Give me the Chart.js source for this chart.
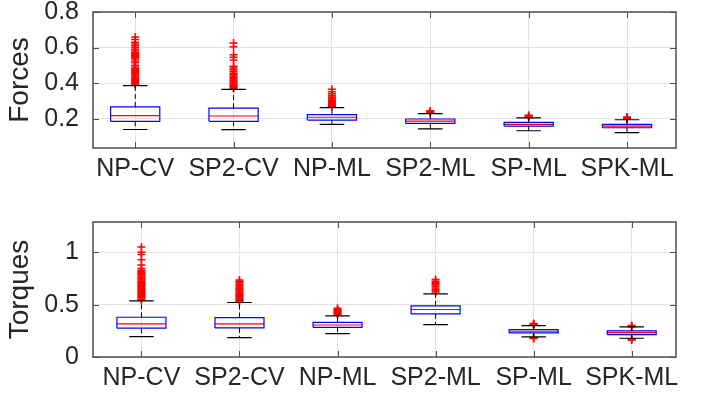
<!DOCTYPE html>
<html>
<head>
<meta charset="utf-8">
<script src="https://cdn.jsdelivr.net/npm/chart.js@4/dist/chart.umd.min.js"></script>
<style>
  body { margin: 0; background: #fff; }
  #wrap { position: relative; width: 710px; height: 396px; }
  canvas { position: absolute; left: 0; }
</style>
</head>
<body>
<div id="wrap">
  <canvas id="forces" width="710" height="198" style="top:0"></canvas>
  <canvas id="torques" width="710" height="198" style="top:198px"></canvas>
</div>
<script>
const categories = ["NP-CV", "SP2-CV", "NP-ML", "SP2-ML", "SP-ML", "SPK-ML"];

const forceLow = [0.139, 0.138, 0.168, 0.143, 0.132, 0.122];
const forceQ1 = [0.185, 0.185, 0.192, 0.173, 0.1585, 0.149];
const forceMedian = [0.217, 0.215, 0.208, 0.186, 0.168, 0.158];
const forceQ3 = [0.266, 0.259, 0.223, 0.198, 0.1795, 0.168];
const forceHigh = [0.386, 0.365, 0.2625, 0.228, 0.2045, 0.194];
const forceOutliers = [
  [0.392, 0.398, 0.405, 0.41, 0.416, 0.422, 0.428, 0.434, 0.44, 0.446, 0.452,
   0.458, 0.464, 0.47, 0.476, 0.482, 0.49, 0.5, 0.515, 0.525, 0.535, 0.542,
   0.548, 0.554, 0.56, 0.566, 0.572, 0.58, 0.59, 0.6, 0.61, 0.62, 0.63, 0.645,
   0.66],
  [0.37, 0.376, 0.382, 0.388, 0.394, 0.4, 0.406, 0.412, 0.418, 0.425, 0.433,
   0.44, 0.448, 0.456, 0.465, 0.475, 0.485, 0.495, 0.53, 0.545, 0.56, 0.605,
   0.625],
  [0.268, 0.274, 0.28, 0.286, 0.292, 0.298, 0.304, 0.31, 0.316, 0.322, 0.33,
   0.34, 0.352, 0.365],
  [0.232, 0.236, 0.24, 0.244],
  [0.207, 0.211, 0.215, 0.219],
  [0.198, 0.202, 0.206, 0.209],
];
const forceTicks = [0.2, 0.4, 0.6, 0.8];

const torqueLow = [0.195, 0.186, 0.224, 0.31, 0.192, 0.179];
const torqueQ1 = [0.275, 0.278, 0.284, 0.412, 0.23, 0.214];
const torqueMedian = [0.316, 0.316, 0.306, 0.454, 0.246, 0.233];
const torqueQ3 = [0.38, 0.377, 0.33, 0.489, 0.262, 0.249];
const torqueHigh = [0.536, 0.521, 0.393, 0.603, 0.3, 0.287];
const torqueOutliers = [
  [0.545, 0.555, 0.565, 0.575, 0.585, 0.595, 0.605, 0.615, 0.625, 0.635, 0.645,
   0.655, 0.665, 0.675, 0.685, 0.695, 0.705, 0.715, 0.725, 0.735, 0.745, 0.755,
   0.765, 0.775, 0.785, 0.795, 0.805, 0.815, 0.83, 0.845, 0.88, 0.93, 0.98,
   1.0, 1.05],
  [0.53, 0.54, 0.55, 0.56, 0.57, 0.58, 0.59, 0.6, 0.61, 0.62, 0.63, 0.64,
   0.65, 0.66, 0.67, 0.68, 0.695, 0.71, 0.725, 0.735],
  [0.405, 0.415, 0.425, 0.435, 0.445, 0.455, 0.465],
  [0.62, 0.63, 0.645, 0.66, 0.675, 0.69, 0.7, 0.715, 0.725, 0.74],
  [0.305, 0.31, 0.315, 0.32, 0.185, 0.18, 0.176],
  [0.29, 0.295, 0.3, 0.172, 0.167, 0.163],
];
const torqueTicks = [0, 0.5, 1];

const TEXT = "#262626";
const FONT = "'Liberation Sans', Arial, sans-serif";
const HALF = 0.25;   // half box width
const CAP = 0.125;   // half whisker cap width

function boxDatasets(low, q1, med, q3, high, outliers) {
  const boxes = [], medians = [], whiskers = [], caps = [], pts = [];
  categories.forEach((c, i) => {
    const x = i + 1;
    boxes.push({x: x - HALF, y: q1[i]}, {x: x + HALF, y: q1[i]},
               {x: x + HALF, y: q3[i]}, {x: x - HALF, y: q3[i]},
               {x: x - HALF, y: q1[i]}, {x: x, y: null});
    medians.push({x: x - HALF, y: med[i]}, {x: x + HALF, y: med[i]}, {x: x, y: null});
    whiskers.push({x: x, y: q3[i]}, {x: x, y: high[i]}, {x: x, y: null},
                  {x: x, y: q1[i]}, {x: x, y: low[i]}, {x: x, y: null});
    caps.push({x: x - CAP, y: high[i]}, {x: x + CAP, y: high[i]}, {x: x, y: null},
              {x: x - CAP, y: low[i]}, {x: x + CAP, y: low[i]}, {x: x, y: null});
    outliers[i].forEach(v => pts.push({x: x, y: v}));
  });
  const line = (data, color, extra) => Object.assign({
    data, showLine: true, borderColor: color, borderWidth: 1.2,
    pointRadius: 0, spanGaps: false, fill: false,
  }, extra);
  return [
    line(whiskers, "#000", {borderDash: [5, 3], borderWidth: 1}),
    line(caps, "#000", {borderWidth: 1.2}),
    line(boxes, "#0000ff"),
    line(medians, "#ff0000"),
    {data: pts, pointStyle: "cross", pointRadius: 4, borderColor: "#ff0000",
     borderWidth: 1.5, showLine: false},
  ];
}

const frame = {
  id: "frame",
  afterDatasetsDraw(chart) {
    const {ctx, chartArea: a, scales} = chart;
    ctx.save();
    ctx.strokeStyle = "#4d4d4d";
    ctx.lineWidth = 1;
    ctx.beginPath();
    scales.y.ticks.forEach(t => {
      const y = Math.round(scales.y.getPixelForValue(t.value)) + 0.5;
      ctx.moveTo(a.left, y); ctx.lineTo(a.left + 6, y);
      ctx.moveTo(a.right, y); ctx.lineTo(a.right - 6, y);
    });
    scales.x.ticks.forEach(t => {
      const x = Math.round(scales.x.getPixelForValue(t.value)) + 0.5;
      ctx.moveTo(x, a.bottom); ctx.lineTo(x, a.bottom - 6);
      ctx.moveTo(x, a.top); ctx.lineTo(x, a.top + 6);
    });
    ctx.stroke();
    ctx.lineWidth = 1.5;
    ctx.strokeRect(a.left, a.top, a.width, a.height);
    ctx.restore();
  },
};

function makeChart(id, title, datasets, yTicks, ymin, ymax, xmin, xmax, pad, xHeight, xPad) {
  return new Chart(document.getElementById(id), {
    type: "scatter",
    data: {datasets},
    plugins: [frame],
    options: {
      responsive: false,
      animation: false,
      layout: {padding: pad},
      plugins: {legend: {display: false}, tooltip: {enabled: false}},
      scales: {
        x: {
          type: "linear", min: xmin, max: xmax,
          afterBuildTicks: s => { s.ticks = categories.map((c, i) => ({value: i + 1})); },
          afterFit: s => { s.height = xHeight; s.paddingLeft = 0; s.paddingRight = 0; },
          grid: {color: "#e3e3e3", drawTicks: false},
          border: {display: false},
          ticks: {
            autoSkip: false, maxRotation: 0, padding: xPad, color: TEXT,
            font: {family: FONT, size: 25, lineHeight: 1},
            callback: (v, i) => categories[i],
          },
        },
        y: {
          min: ymin, max: ymax,
          afterBuildTicks: s => { s.ticks = yTicks.map(v => ({value: v})); },
          afterFit: s => { s.width = 93; s.paddingTop = 0; s.paddingBottom = 0; },
          grid: {color: "#e3e3e3", drawTicks: false},
          border: {display: false},
          title: {display: true, text: title, color: TEXT, padding: 3,
                  font: {family: FONT, size: 28, lineHeight: 1.2}},
          ticks: {
            padding: 14, color: TEXT,
            font: {family: FONT, size: 25, lineHeight: 1},
            callback: v => String(v),
          },
        },
      },
    },
  });
}

makeChart("forces", "Forces",
  boxDatasets(forceLow, forceQ1, forceMedian, forceQ3, forceHigh, forceOutliers),
  forceTicks, 0.035, 0.8, 0.571, 6.498,
  {left: 0, right: 34, top: 12, bottom: 0}, 50, 9);

makeChart("torques", "Torques",
  boxDatasets(torqueLow, torqueQ1, torqueMedian, torqueQ3, torqueHigh, torqueOutliers),
  torqueTicks, 0, 1.29, 0.506, 6.452,
  {left: 0, right: 34, top: 24, bottom: 0}, 39, 9);
</script>
</body>
</html>
